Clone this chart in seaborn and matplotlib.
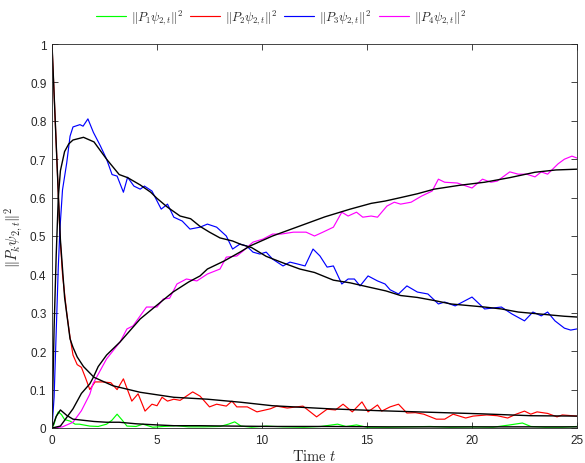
import numpy as np
import pandas as pd
import matplotlib
matplotlib.use("Agg")
import matplotlib.pyplot as plt
import seaborn as sns

# ---------------- data ----------------
t_p1 = [0, 0.1, 0.2, 0.3, 0.45, 0.6, 0.86, 1.1, 1.3, 1.8, 2.2, 2.6, 2.85, 3.1, 3.35, 3.57, 4.0, 4.33,
        4.8, 5.3, 5.9, 6.5, 7.2, 8.0, 8.4, 8.7, 9.0, 9.5, 10.2, 11, 12, 12.8, 13.6, 14.0, 14.5, 15.0,
        16, 17, 18, 19, 20, 21, 21.8, 22.4, 22.8, 23.5, 24.3, 25]
v_p1 = [0, 0.01, 0.03, 0.042, 0.035, 0.022, 0.018, 0.01, 0.01, 0.005, 0.004, 0.01, 0.02, 0.036, 0.02,
        0.005, 0.004, 0.01, 0.002, 0.004, 0.006, 0.003, 0.003, 0.004, 0.01, 0.016, 0.005, 0.002, 0.005,
        0.003, 0.002, 0.004, 0.01, 0.004, 0.008, 0.002, 0.002, 0.003, 0.004, 0.002, 0.003, 0.002, 0.008,
        0.013, 0.004, 0.002, 0.002, 0.004]

t_p2 = [0, 0.1, 0.2, 0.3, 0.38, 0.5, 0.7, 0.85, 1.0, 1.2, 1.4, 1.6, 1.8, 2.05, 2.4, 2.8, 3.1, 3.4, 3.8,
        4.1, 4.43, 4.76, 5.0, 5.24, 5.5, 5.8, 6.1, 6.4, 6.7, 7.05, 7.5, 7.84, 8.3, 8.57, 8.8, 9.3, 9.76,
        10.4, 10.7, 11.2, 11.95, 12.6, 13.1, 13.5, 13.86, 14.3, 14.76, 15.05, 15.5, 15.7, 16.1, 16.5,
        16.9, 17.3, 17.7, 18.3, 18.7, 19.1, 19.7, 20.05, 20.7, 21.2, 21.7, 22.1, 22.5, 22.8, 23.1, 23.6,
        24.05, 24.3, 25]
v_p2 = [1.0, 0.87, 0.74, 0.61, 0.5, 0.4, 0.3, 0.24, 0.19, 0.165, 0.158, 0.13, 0.10, 0.12, 0.12, 0.118,
        0.10, 0.128, 0.07, 0.089, 0.044, 0.062, 0.058, 0.08, 0.07, 0.075, 0.072, 0.083, 0.094, 0.083,
        0.055, 0.062, 0.057, 0.07, 0.055, 0.055, 0.042, 0.05, 0.057, 0.052, 0.057, 0.029, 0.049, 0.047,
        0.062, 0.042, 0.068, 0.042, 0.06, 0.044, 0.055, 0.062, 0.039, 0.04, 0.036, 0.023, 0.023, 0.036,
        0.026, 0.031, 0.034, 0.032, 0.026, 0.036, 0.044, 0.036, 0.042, 0.038, 0.029, 0.034, 0.031]

t_p3 = [0, 0.1, 0.2, 0.3, 0.38, 0.5, 0.7, 0.86, 1.0, 1.33, 1.48, 1.71, 1.97, 2.3, 2.6, 2.86, 3.1, 3.4,
        3.6, 3.9, 4.2, 4.4, 4.76, 5.2, 5.5, 5.8, 6.2, 6.57, 7.05, 7.4, 7.84, 8.3, 8.6, 8.95, 9.27, 9.57,
        9.9, 10.2, 10.5, 11.0, 11.33, 11.7, 12.05, 12.43, 12.76, 13.1, 13.4, 13.8, 14.1, 14.4, 14.67,
        15.05, 15.5, 15.86, 16.1, 16.5, 16.9, 17.4, 17.9, 18.4, 18.7, 19.2, 20.0, 20.6, 21.4, 21.9,
        22.5, 22.9, 23.3, 23.6, 23.95, 24.4, 24.7, 25]
v_p3 = [0, 0.08, 0.25, 0.42, 0.52, 0.62, 0.69, 0.76, 0.784, 0.79, 0.786, 0.805, 0.77, 0.735, 0.70, 0.66,
        0.656, 0.614, 0.653, 0.63, 0.622, 0.63, 0.617, 0.57, 0.583, 0.549, 0.539, 0.518, 0.523, 0.531,
        0.523, 0.5, 0.466, 0.479, 0.474, 0.458, 0.453, 0.458, 0.44, 0.422, 0.432, 0.427, 0.422, 0.466,
        0.448, 0.419, 0.422, 0.375, 0.388, 0.388, 0.37, 0.396, 0.383, 0.375, 0.36, 0.349, 0.37, 0.354,
        0.349, 0.323, 0.328, 0.318, 0.341, 0.31, 0.315, 0.297, 0.279, 0.302, 0.292, 0.302, 0.279, 0.26,
        0.255, 0.258]

t_p4 = [0, 0.5, 1.0, 1.4, 1.8, 1.95, 2.3, 2.6, 3.24, 3.57, 3.86, 4.5, 5.0, 5.3, 5.6, 5.95, 6.4, 6.9,
        7.4, 8.0, 8.3, 8.8, 9.1, 9.57, 10.05, 10.5, 10.9, 11.5, 12.1, 12.5, 12.9, 13.4, 13.8, 14.1,
        14.5, 14.8, 15.2, 15.5, 15.95, 16.3, 16.6, 17.1, 17.6, 18.1, 18.4, 18.7, 19.3, 20.0, 20.5,
        20.9, 21.2, 21.8, 22.2, 22.6, 23.0, 23.3, 23.6, 24.1, 24.4, 24.76, 25]
v_p4 = [0, 0.003, 0.015, 0.045, 0.088, 0.115, 0.15, 0.18, 0.224, 0.258, 0.266, 0.315, 0.315, 0.336,
        0.338, 0.375, 0.388, 0.383, 0.401, 0.414, 0.445, 0.448, 0.461, 0.484, 0.492, 0.505, 0.505, 0.51,
        0.51, 0.5, 0.51, 0.523, 0.562, 0.552, 0.562, 0.549, 0.552, 0.549, 0.578, 0.588, 0.583, 0.588,
        0.604, 0.617, 0.648, 0.64, 0.638, 0.625, 0.648, 0.64, 0.643, 0.667, 0.661, 0.661, 0.654, 0.667,
        0.661, 0.688, 0.70, 0.708, 0.703]

# smooth (averaged) black curves
t_a1 = [0, 0.2, 0.4, 0.7, 1.0, 1.5, 2.0, 2.6, 3.2, 4.0, 5.0, 5.8, 7, 8.5, 10.5, 13, 16, 20, 25]
v_a1 = [0, 0.03, 0.047, 0.033, 0.023, 0.02, 0.017, 0.015, 0.015, 0.011, 0.008, 0.006, 0.006, 0.005,
        0.004, 0.004, 0.003, 0.003, 0.003]

t_a2 = [0, 0.1, 0.2, 0.3, 0.4, 0.6, 0.86, 1.0, 1.2, 1.5, 2.0, 2.9, 4.2, 5.8, 7.4, 9.0, 10.5, 13.2,
        15.6, 18, 20.4, 22.8, 25]
v_a2 = [1.0, 0.87, 0.74, 0.61, 0.49, 0.34, 0.232, 0.21, 0.185, 0.16, 0.132, 0.11, 0.093, 0.08, 0.075,
        0.067, 0.058, 0.05, 0.045, 0.041, 0.037, 0.032, 0.031]

t_a3 = [0, 0.05, 0.1, 0.2, 0.3, 0.4, 0.6, 0.8, 1.0, 1.5, 2.0, 2.6, 3.2, 3.6, 4.2, 4.7, 5.0, 5.5, 6.1,
        6.6, 7.05, 7.5, 8.0, 8.6, 9.0, 9.5, 10.2, 11, 11.8, 12.5, 13.4, 14.2, 15, 15.9, 16.6, 17.4,
        18.2, 19, 20, 20.6, 21.4, 22.2, 23, 23.8, 24.4, 25]
v_a3 = [0, 0.13, 0.26, 0.45, 0.6, 0.67, 0.72, 0.74, 0.75, 0.757, 0.745, 0.70, 0.66, 0.652, 0.633, 0.614,
        0.598, 0.575, 0.552, 0.545, 0.525, 0.51, 0.495, 0.487, 0.478, 0.47, 0.447, 0.43, 0.414, 0.405,
        0.385, 0.378, 0.368, 0.357, 0.345, 0.34, 0.332, 0.323, 0.318, 0.315, 0.31, 0.302, 0.298, 0.294,
        0.291, 0.289]

t_a4 = [0, 0.4, 1.0, 1.4, 1.8, 1.95, 2.2, 2.6, 3.24, 4.2, 5.0, 5.76, 6.5, 7.05, 7.4, 8.2, 8.95, 9.43,
        10.5, 11.8, 13, 14.2, 15.2, 15.86, 16.6, 17.4, 18.2, 19.4, 20.6, 21.8, 23.0, 24, 25]
v_a4 = [0, 0.005, 0.05, 0.09, 0.115, 0.13, 0.16, 0.19, 0.224, 0.284, 0.32, 0.354, 0.38, 0.396, 0.414,
        0.435, 0.458, 0.474, 0.5, 0.526, 0.55, 0.57, 0.585, 0.591, 0.60, 0.61, 0.622, 0.632, 0.64, 0.652,
        0.666, 0.672, 0.674]

labels = [r"$\|P_1\psi_{2,t}\|^2$", r"$\|P_2\psi_{2,t}\|^2$",
          r"$\|P_3\psi_{2,t}\|^2$", r"$\|P_4\psi_{2,t}\|^2$"]
colors = ["#00ff00", "#ff0000", "#0000ff", "#ff00ff"]
x_ticks = [0, 5, 10, 15, 20, 25]
y_ticks = [0, 0.1, 0.2, 0.3, 0.4, 0.5, 0.6, 0.7, 0.8, 0.9, 1]
y_ticklabels = ["0", "0.1", "0.2", "0.3", "0.4", "0.5", "0.6", "0.7", "0.8", "0.9", "1"]

# ---------------- plotting ----------------
sns.set_theme(style="white")
plt.rcParams["font.family"] = ["Liberation Sans", "DejaVu Sans"]
plt.rcParams["mathtext.fontset"] = "cm"

fig = plt.figure(figsize=(5.85, 4.64), dpi=100)
ax = fig.add_axes([52 / 585, 1 - 429 / 464, 525 / 585, 384 / 464])

noisy = [(t_p1, v_p1), (t_p2, v_p2), (t_p3, v_p3), (t_p4, v_p4)]
avgs = [(t_a1, v_a1), (t_a2, v_a2), (t_a3, v_a3), (t_a4, v_a4)]

for (t, v), c, lab in zip(noisy, colors, labels):
    df = pd.DataFrame({"t": t, "v": v})
    sns.lineplot(data=df, x="t", y="v", ax=ax, color=c, lw=0.85, sort=False,
                 estimator=None, label=lab)
for t, v in avgs:
    df = pd.DataFrame({"t": t, "v": v})
    sns.lineplot(data=df, x="t", y="v", ax=ax, color="black", lw=1.0, sort=False,
                 estimator=None, label="_nolegend_")

h, l = ax.get_legend_handles_labels()
if ax.get_legend() is not None:
    ax.get_legend().remove()

ax.set_xlim(0, 25)
ax.set_ylim(0, 1)
ax.set_xticks(x_ticks)
ax.set_xticklabels([str(x) for x in x_ticks])
ax.set_yticks(y_ticks)
ax.set_yticklabels(y_ticklabels)

edge = "#262626"
for s in ax.spines.values():
    s.set_color(edge)
    s.set_linewidth(0.6)
ax.tick_params(direction="in", length=4, width=0.6, colors=edge, labelsize=8.5,
               top=True, right=True, bottom=True, left=True, pad=4)

ax.set_xlabel(r"$\mathrm{Time}\ t$", fontsize=10.5, labelpad=2)
ax.set_ylabel(r"$\|P_k\psi_{2,t}\|^2$", fontsize=10.5)
ax.yaxis.set_label_coords(-0.054, 0.5)

fig.legend(h, l, loc="center", bbox_to_anchor=(281 / 585, 1 - 18 / 464), ncol=4,
           frameon=False, fontsize=9, handlelength=2.4, columnspacing=0.55,
           handletextpad=0.4)

fig.savefig("out.png", dpi=100)
